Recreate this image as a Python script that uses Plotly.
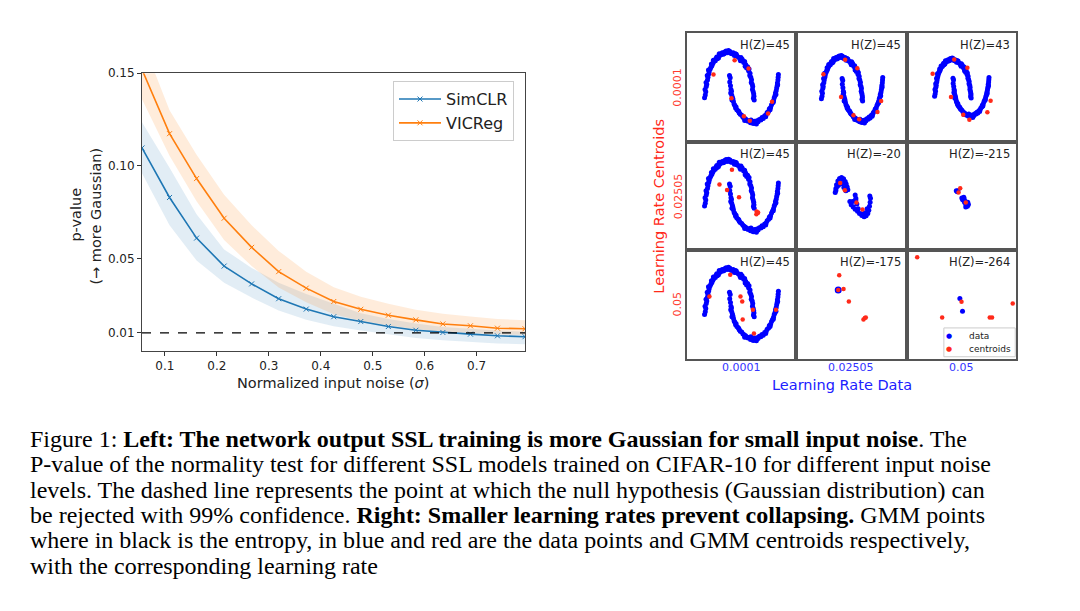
import plotly.graph_objects as go

# ---------------- Left chart data ----------------
noise = [0.056, 0.109, 0.161, 0.214, 0.267, 0.319, 0.372, 0.425, 0.477, 0.530, 0.583, 0.635, 0.688, 0.740, 0.793]
simclr_mean = [0.1097, 0.0830, 0.0611, 0.0460, 0.0364, 0.0284, 0.0228, 0.0187, 0.0161, 0.0134, 0.0114, 0.0102, 0.0093, 0.0084, 0.0079]
simclr_hi = [0.1236, 0.0990, 0.0740, 0.0550, 0.0450, 0.0370, 0.0310, 0.0255, 0.0205, 0.0175, 0.0150, 0.0132, 0.0120, 0.0112, 0.0106]
simclr_lo = [0.0960, 0.0680, 0.0490, 0.0370, 0.0290, 0.0220, 0.0170, 0.0135, 0.0112, 0.0090, 0.0072, 0.0060, 0.0050, 0.0043, 0.0038]
vicreg_mean = [0.1520, 0.1174, 0.0932, 0.0718, 0.0561, 0.0430, 0.0341, 0.0269, 0.0227, 0.0195, 0.0170, 0.0148, 0.0138, 0.0125, 0.0122]
vicreg_hi = [0.1680, 0.1300, 0.1060, 0.0845, 0.0680, 0.0542, 0.0430, 0.0346, 0.0295, 0.0257, 0.0225, 0.0203, 0.0188, 0.0175, 0.0168]
vicreg_lo = [0.1360, 0.1055, 0.0810, 0.0600, 0.0460, 0.0345, 0.0265, 0.0200, 0.0165, 0.0140, 0.0120, 0.0106, 0.0098, 0.0092, 0.0088]
threshold = 0.01
x_ticks = [0.1, 0.2, 0.3, 0.4, 0.5, 0.6, 0.7]
y_ticks = [0.01, 0.05, 0.10, 0.15]
y_ticktext = ["0.01", "0.05", "0.10", "0.15"]

# ---------------- Right grid data ----------------
lr_labels = ["0.0001", "0.02505", "0.05"]
hz_labels = ["H(Z)=45", "H(Z)=45", "H(Z)=43",
             "H(Z)=45", "H(Z)=-20", "H(Z)=-215",
             "H(Z)=45", "H(Z)=-175", "H(Z)=-264"]
grid_legend = ["data", "centroids"]

# two-moons data points
moons_pts = [
    (-1.02, 0.02), (-0.99, 0.08), (-0.97, 0.15), (-1.00, 0.20), (-0.95, 0.26), (-0.93, 0.31), (-0.96, 0.35),
    (-0.90, 0.40), (-0.88, 0.46), (-0.91, 0.50), (-0.85, 0.53), (-0.83, 0.58), (-0.86, 0.62), (-0.79, 0.64),
    (-0.76, 0.68), (-0.72, 0.71), (-0.74, 0.75), (-0.68, 0.76), (-0.64, 0.80), (-0.66, 0.83), (-0.58, 0.82),
    (-0.55, 0.87), (-0.50, 0.86), (-0.52, 0.90), (-0.45, 0.88), (-0.40, 0.93), (-0.42, 0.97), (-0.35, 0.95),
    (-0.30, 0.99), (-0.26, 0.96), (-0.20, 1.01), (-0.22, 0.97), (-0.14, 1.03), (-0.10, 0.99), (-0.04, 1.04),
    (0.00, 1.00), (0.05, 0.98), (0.02, 1.02), (0.10, 0.97), (0.15, 0.99), (0.20, 0.93), (0.24, 0.97),
    (0.30, 0.92), (0.28, 0.96), (0.36, 0.90), (0.42, 0.86), (0.47, 0.89), (0.45, 0.82), (0.52, 0.85),
    (0.58, 0.78), (0.62, 0.80), (0.66, 0.74), (0.64, 0.70), (0.70, 0.66), (0.74, 0.69), (0.78, 0.60),
    (0.80, 0.64), (0.84, 0.55), (0.83, 0.50), (0.87, 0.46), (0.90, 0.41), (0.89, 0.35), (0.93, 0.31),
    (0.95, 0.26), (0.94, 0.20), (0.97, 0.15), (0.99, 0.10), (1.00, 0.05), (0.98, 0.01), (1.01, -0.03),
    (0.00, 0.50), (0.03, 0.45), (0.01, 0.36), (0.04, 0.28), (0.06, 0.20), (0.05, 0.12), (0.09, 0.08),
    (0.12, 0.03), (0.10, -0.03), (0.16, -0.06), (0.19, -0.12), (0.22, -0.15), (0.27, -0.18), (0.30, -0.24),
    (0.35, -0.26), (0.40, -0.31), (0.44, -0.34), (0.50, -0.36), (0.55, -0.40), (0.60, -0.42), (0.66, -0.44),
    (0.70, -0.47), (0.76, -0.49), (0.82, -0.47), (0.86, -0.52), (0.92, -0.50), (0.97, -0.54), (1.02, -0.49),
    (1.06, -0.53), (1.12, -0.48), (1.17, -0.50), (1.22, -0.45), (1.28, -0.46), (1.33, -0.41), (1.38, -0.43),
    (1.44, -0.37), (1.50, -0.35), (1.54, -0.30), (1.60, -0.27), (1.63, -0.22), (1.68, -0.19), (1.72, -0.13),
    (1.76, -0.09), (1.80, -0.04), (1.83, 0.02), (1.86, 0.06), (1.88, 0.12), (1.91, 0.17), (1.93, 0.23),
    (1.95, 0.28), (1.96, 0.34), (1.98, 0.40), (1.99, 0.46), (2.00, 0.52), (0.08, 0.16), (0.14, -0.01),
    (0.25, -0.20), (0.38, -0.28), (0.62, -0.47), (0.88, -0.46), (1.10, -0.55), (1.30, -0.44), (1.48, -0.39),
    (1.66, -0.24), (1.79, -0.08), (1.90, 0.09), (1.97, 0.30),
]
moon_x = [p[0] for p in moons_pts]
moon_y = [p[1] for p in moons_pts]

# GMM centroids per panel (moon units for uncollapsed panels)
cent_00 = [(-0.655, 0.52), (0.21, 0.83), (0.78, 0.65), (0.08, 0.01), (1.74, -0.07), (1.58, -0.32), (0.59, -0.38), (0.83, -0.48)]
cent_01 = [(-0.92, 0.60), (0.15, 0.94), (0.75, 0.74), (-0.05, 0.06), (1.92, -0.03), (1.74, -0.29), (0.56, -0.37), (0.84, -0.46)]
cent_02 = [(-1.13, 0.62), (0.07, 1.00), (0.80, 0.78), (-0.11, 0.00), (2.09, -0.10), (1.91, -0.41), (0.57, -0.48), (0.91, -0.61)]
cent_10 = [(0.10, 0.81), (-0.41, 0.49), (-0.10, 0.37), (0.39, 0.21), (1.11, -0.10), (1.15, -0.13), (1.10, -0.16), (1.17, -0.12)]
cent_20 = [(0.03, 0.88), (-0.82, 0.41), (0.45, 0.41), (0.52, 0.30), (0.96, 0.12), (0.54, -0.09), (1.90, 0.12), (1.00, -0.39)]

# collapsed panels (their own embedding units)
data_11 = [(118, 178), (120, 190), (122, 202), (126, 213), (131, 221), (137, 224), (143, 220), (148, 212), (151, 204),
           (154, 195), (156, 186), (150, 183), (144, 193), (138, 205), (133, 212), (124, 196), (120, 184), (128, 200),
           (178, 170), (180, 160), (178, 152), (170, 150), (162, 150), (166, 140), (172, 133), (178, 126), (185, 120),
           (191, 113), (198, 107), (205, 103), (211, 106), (216, 113), (219, 123), (221, 135), (223, 148), (224, 160),
           (222, 167), (214, 128), (208, 115), (196, 112), (187, 128), (183, 142), (180, 155)]
cent_11 = [(133, 207), (147, 185), (182, 147), (200, 125)]
data_12 = [(151, 183), (156, 183), (154, 180), (168, 161), (172, 155), (176, 148), (180, 141), (185, 135), (182, 143),
           (178, 151), (186, 148), (188, 141), (175, 158), (170, 156), (180, 133), (184, 138), (174, 163)]
cent_12 = [(163, 191), (158, 178), (180, 147)]
data_21 = [(127, 211)]
cent_21 = [(130, 256), (127, 211), (143, 214), (159, 176), (203, 121), (207, 125), (210, 127)]
data_22 = [(162, 185), (170, 146)]
cent_22 = [(32, 311), (167, 175), (108, 127), (253, 127), (260, 127), (323, 170)]

caption_lines = [
    "Figure 1: <b>Left: The network output SSL training is more Gaussian for small input noise</b>. The",
    "P-value of the normality test for different SSL models trained on CIFAR-10 for different input noise",
    "levels. The dashed line represents the point at which the null hypothesis (Gaussian distribution) can",
    "be rejected with 99% confidence. <b>Right: Smaller learning rates prevent collapsing.</b> GMM points",
    "where in black is the entropy, in blue and red are the data points and GMM centroids respectively,",
    "with the corresponding learning rate",
]

# ---------------- Figure ----------------
W, H = 1080, 611
def px(v):
    return v / W
def py(v):
    return 1 - v / H

FONT = "DejaVu Sans"
BLUE = "#1f77b4"
ORANGE = "#ff7f0e"
DBLUE = "#0000ff"
RED = "#ff2a1a"

fig = go.Figure()

# bands
fig.add_trace(go.Scatter(x=noise + noise[::-1], y=simclr_hi + simclr_lo[::-1], fill="toself",
                         fillcolor="rgba(31,119,180,0.13)", line=dict(width=0), hoverinfo="skip",
                         showlegend=False, xaxis="x", yaxis="y"))
fig.add_trace(go.Scatter(x=noise + noise[::-1], y=vicreg_hi + vicreg_lo[::-1], fill="toself",
                         fillcolor="rgba(255,127,14,0.15)", line=dict(width=0), hoverinfo="skip",
                         showlegend=False, xaxis="x", yaxis="y"))
fig.add_trace(go.Scatter(x=noise, y=simclr_mean, mode="lines+markers", name="SimCLR",
                         line=dict(color=BLUE, width=1.6),
                         marker=dict(symbol="x-thin", size=5, color=BLUE, line=dict(width=1, color=BLUE)),
                         xaxis="x", yaxis="y"))
fig.add_trace(go.Scatter(x=noise, y=vicreg_mean, mode="lines+markers", name="VICReg",
                         line=dict(color=ORANGE, width=1.6),
                         marker=dict(symbol="x-thin", size=5, color=ORANGE, line=dict(width=1, color=ORANGE)),
                         xaxis="x", yaxis="y"))

layout = dict(
    width=W, height=H, margin=dict(l=0, r=0, t=0, b=0),
    paper_bgcolor="white", plot_bgcolor="white",
    font=dict(family=FONT, color="#222"),
    xaxis=dict(domain=[px(142), px(525)], range=[noise[0], noise[-1]], tickvals=x_ticks,
               ticks="outside", ticklen=4, tickcolor="#333", tickfont=dict(size=12, color="#222"),
               showline=True, mirror=True, linecolor="#444", linewidth=1, showgrid=False, zeroline=False,
               anchor="y"),
    yaxis=dict(domain=[py(348), py(67)], range=[0.0002, 0.15], tickvals=y_ticks, ticktext=y_ticktext,
               ticks="outside", ticklen=4, tickcolor="#333", tickfont=dict(size=12, color="#222"),
               showline=True, mirror=True, linecolor="#444", linewidth=1, showgrid=False, zeroline=False,
               anchor="x"),
    legend=dict(x=px(393), xanchor="left", y=py(75), yanchor="top", font=dict(size=16, family=FONT, color="#222"),
                bgcolor="white", bordercolor="#cccccc", borderwidth=1, itemwidth=42),
)

col_px = [(686.7, 796.0), (796.0, 906.7), (906.7, 1016.0)]
row_px = [(26.7, 136.7), (136.7, 246.0), (246.0, 356.0)]
moon_range_a = ([-1.75, 2.72], [-0.94, 1.41])
panel_ranges = {
    (0, 0): moon_range_a, (1, 0): moon_range_a, (2, 0): moon_range_a,
    (0, 1): ([-2.27, 3.18], [-1.0, 1.56]),
    (0, 2): ([-2.57, 3.5], [-1.21, 1.70]),
    (1, 1): ([0, 333], [0, 333]), (1, 2): ([0, 333], [0, 333]),
    (2, 1): ([0, 333], [0, 333]), (2, 2): ([0, 333], [0, 333]),
}
panel_data = {
    (0, 0): (list(zip(moon_x, moon_y)), cent_00),
    (0, 1): (list(zip(moon_x, moon_y)), cent_01),
    (0, 2): (list(zip(moon_x, moon_y)), cent_02),
    (1, 0): (list(zip(moon_x, moon_y)), cent_10),
    (1, 1): (data_11, cent_11),
    (1, 2): (data_12, cent_12),
    (2, 0): (list(zip(moon_x, moon_y)), cent_20),
    (2, 1): (data_21, cent_21),
    (2, 2): (data_22, cent_22),
}

annotations = []
for r in range(3):
    for c in range(3):
        k = 2 + r * 3 + c
        xr, yr = panel_ranges[(r, c)]
        layout[f"xaxis{k}"] = dict(domain=[px(col_px[c][0]), px(col_px[c][1])], range=xr, anchor=f"y{k}",
                                   showline=True, mirror=True, linecolor="#555", linewidth=1.5,
                                   showgrid=False, zeroline=False, showticklabels=False, ticks="")
        layout[f"yaxis{k}"] = dict(domain=[py(row_px[r][1]), py(row_px[r][0])], range=yr, anchor=f"x{k}",
                                   showline=True, mirror=True, linecolor="#555", linewidth=1.5,
                                   showgrid=False, zeroline=False, showticklabels=False, ticks="")
        dpts, cpts = panel_data[(r, c)]
        big = (r == 2 and c == 1)
        fig.add_trace(go.Scatter(x=[p[0] for p in dpts], y=[p[1] for p in dpts], mode="markers",
                                 marker=dict(color=DBLUE, size=7 if big else 5), name="data",
                                 showlegend=False, xaxis=f"x{k}", yaxis=f"y{k}", cliponaxis=True))
        fig.add_trace(go.Scatter(x=[p[0] for p in cpts], y=[p[1] for p in cpts], mode="markers",
                                 marker=dict(color=RED, size=4.5), name="centroids",
                                 showlegend=False, xaxis=f"x{k}", yaxis=f"y{k}", cliponaxis=True))
        annotations.append(dict(text=hz_labels[r * 3 + c], xref=f"x{k} domain", yref=f"y{k} domain",
                                x=0.965, y=0.975, xanchor="right", yanchor="top", showarrow=False,
                                font=dict(size=11.5, family=FONT, color="#222")))

# small legend box inside the last panel
shapes = [dict(type="rect", xref="x10 domain", yref="y10 domain", x0=0.34, x1=0.993, y0=0.02, y1=0.285,
               line=dict(color="#cccccc", width=1), fillcolor="white", layer="below")]
for j, (lab, col) in enumerate(zip(grid_legend, [DBLUE, RED])):
    yy = 0.21 - 0.12 * j
    annotations.append(dict(text="●", xref="x10 domain", yref="y10 domain", x=0.385, y=yy, showarrow=False,
                            xanchor="center", yanchor="middle", font=dict(size=7, color=col)))
    annotations.append(dict(text=lab, xref="x10 domain", yref="y10 domain", x=0.555, y=yy, showarrow=False,
                            xanchor="left", yanchor="middle", font=dict(size=9, family=FONT, color="#222")))

for i, lab in enumerate(lr_labels):
    annotations.append(dict(text=lab, xref="paper", yref="paper", x=px(678),
                            y=py((row_px[i][0] + row_px[i][1]) / 2), textangle=-90, showarrow=False,
                            xanchor="center", yanchor="middle", font=dict(size=11, family=FONT, color="#ff3b30")))
    annotations.append(dict(text=lab, xref="paper", yref="paper", x=px((col_px[i][0] + col_px[i][1]) / 2),
                            y=py(365), showarrow=False, xanchor="center", yanchor="middle",
                            font=dict(size=11, family=FONT, color="#3333ff")))

annotations += [
    dict(text="Learning Rate Centroids", xref="paper", yref="paper", x=px(659), y=py(202), textangle=-90,
         showarrow=False, xanchor="center", yanchor="middle", font=dict(size=14.5, family=FONT, color="#ff2a1a")),
    dict(text="Learning Rate Data", xref="paper", yref="paper", x=px(842), y=py(382), showarrow=False,
         xanchor="center", yanchor="middle", font=dict(size=14.5, family=FONT, color="#2020ff")),
    dict(text="Normalized input noise (<i>σ</i>)", xref="paper", yref="paper", x=px(333), y=py(380),
         showarrow=False, xanchor="center", yanchor="middle", font=dict(size=14.5, family=FONT, color="#222")),
    dict(text="p-value", xref="paper", yref="paper", x=px(76), y=py(210), textangle=-90,
         showarrow=False, xanchor="center", yanchor="middle", font=dict(size=14.5, family=FONT, color="#222")),
    dict(text="(→ more Gaussian)", xref="paper", yref="paper", x=px(96), y=py(212), textangle=-90,
         showarrow=False, xanchor="center", yanchor="middle", font=dict(size=14.5, family=FONT, color="#222")),
]

for i, line in enumerate(caption_lines):
    annotations.append(dict(text=line, xref="paper", yref="paper", x=px(28), y=py(437 + 25.6 * i),
                            xanchor="left", yanchor="middle", showarrow=False,
                            font=dict(size=24, family="Liberation Serif", color="black")))

layout["annotations"] = annotations
layout["shapes"] = shapes
fig.update_layout(**layout)
fig.add_shape(type="line", xref="x domain", yref="y", x0=0, x1=1, y0=threshold, y1=threshold,
              line=dict(color="black", width=1.3, dash="dash"))
fig.write_html(
    "out.html",
    config={"displayModeBar": False},
    post_script=("document.body.style.margin='0';"
                 "var d=document.getElementById('{plot_id}');"
                 "d.style.position='absolute';d.style.top='0px';d.style.left='0px';"),
)
